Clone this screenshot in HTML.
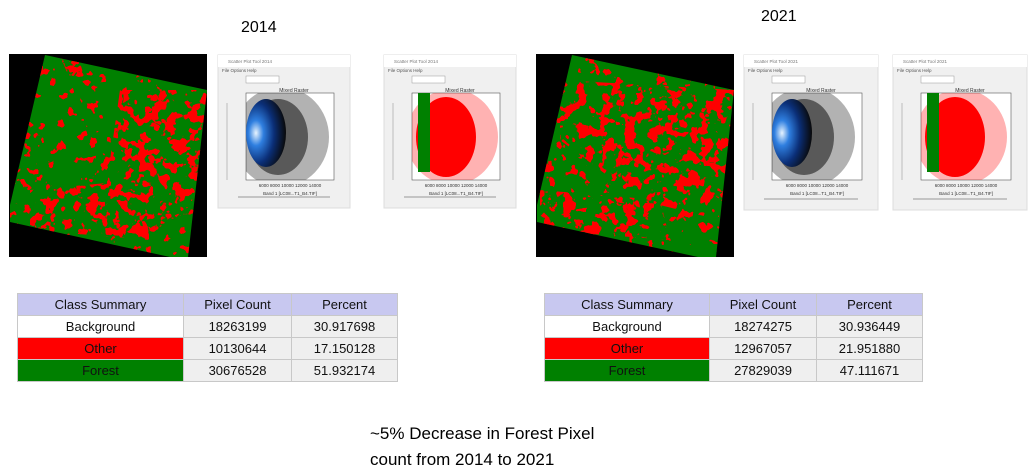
<!DOCTYPE html>
<html><head><meta charset="utf-8"><style>
body{margin:0;width:1032px;height:473px;background:#fff;overflow:hidden;position:relative;font-family:"Liberation Sans",sans-serif}
.t{position:absolute;font-size:16px;color:#000}
table{position:absolute;border-collapse:collapse;font-size:13px;font-family:"Liberation Sans",sans-serif}
td{border:1px solid #c8c8c8;text-align:center;height:21px;padding:0;background:#efefef;color:#111}
tr.h td{background:#c8c8f0}
</style></head><body>
<div class="t" style="left:241px;top:19px">2014</div>
<div class="t" style="left:761px;top:8px">2021</div>
<svg id="s" width="1032" height="280" style="position:absolute;left:0;top:0">
<defs>
<filter id="sp" x="0" y="0" width="100%" height="100%">
<feTurbulence type="fractalNoise" baseFrequency="0.09" numOctaves="3" seed="4"/>
<feColorMatrix type="matrix" values="0 0 0 0 1  0 0 0 0 0  0 0 0 0 0  0 0 0 -40 14.4"/>
</filter>
<filter id="dn" x="0" y="0" width="100%" height="100%">
<feTurbulence type="fractalNoise" baseFrequency="0.08" numOctaves="3" seed="7"/>
<feColorMatrix type="matrix" values="0 0 0 0 1  0 0 0 0 0  0 0 0 0 0  0 0 0 -40 17.5"/>
</filter>
<radialGradient id="bl" cx="0.25" cy="0.5" r="0.75">
<stop offset="0" stop-color="#e8f4ff"/><stop offset="0.25" stop-color="#2f7fe0"/><stop offset="0.6" stop-color="#0b2f78"/><stop offset="1" stop-color="#000" stop-opacity="0.9"/>
</radialGradient>
</defs>
</svg>
<table style="left:17px;top:293px;width:381px">
<tr class="h"><td style="width:165px">Class Summary</td><td style="width:107px">Pixel Count</td><td>Percent</td></tr>
<tr><td style="background:#fff">Background</td><td>18263199</td><td>30.917698</td></tr>
<tr><td style="background:#ff0000">Other</td><td>10130644</td><td>17.150128</td></tr>
<tr><td style="background:#008000">Forest</td><td>30676528</td><td>51.932174</td></tr>
</table>
<table style="left:544px;top:293px;width:379px">
<tr class="h"><td style="width:164px">Class Summary</td><td style="width:106px">Pixel Count</td><td>Percent</td></tr>
<tr><td style="background:#fff">Background</td><td>18274275</td><td>30.936449</td></tr>
<tr><td style="background:#ff0000">Other</td><td>12967057</td><td>21.951880</td></tr>
<tr><td style="background:#008000">Forest</td><td>27829039</td><td>47.111671</td></tr>
</table>
<div class="t" style="left:370px;top:421px;font-size:17px;line-height:26px">~5% Decrease in Forest Pixel<br>count from 2014 to 2021</div>
<script>
const NS='http://www.w3.org/2000/svg';
const svg=document.getElementById('s');
function mk(tag,at,p){const e=document.createElementNS(NS,tag);for(const k in at)e.setAttribute(k,at[k]);(p||svg).appendChild(e);return e;}
function raster(x,y,poly,dense,name){
  const g=mk('g',{});
  
  
  mk('rect',{x:x,y:y,width:198,height:203,fill:'#000'},g);
  const cid='c'+name;
  const cp=mk('clipPath',{id:cid},g);
  mk('polygon',{points:poly},cp);
  mk('polygon',{points:poly,fill:'#008000'},g);
  const gc=mk('g',{'clip-path':'url(#'+cid+')'},g);
  mk('rect',{x:x,y:y,width:198,height:203,filter:'url(#sp)'},gc);
  const cd='d'+name;
  const cp2=mk('clipPath',{id:cd},g);
  for(const p of dense) mk('polygon',{points:p},cp2);
  const gd=mk('g',{'clip-path':'url(#'+cd+')'},gc);
  mk('rect',{x:x,y:y,width:198,height:203,filter:'url(#dn)'},gd);
}
raster(9,54,'45,55 207,90 188,257 170,257 10,222 10,205',
 ['120,90 207,90 200,200 150,230 110,160','30,190 140,180 150,240 30,230','60,55 110,60 100,90 70,80'],'raster-2014');
raster(536,54,'572,55 734,90 716,257 698,257 537,222 537,205',
 ['560,80 734,90 720,220 640,200 560,140','540,190 660,200 670,240 540,230'],'raster-2021');
function win(x,y,w,h,title,mode,id){
  const g=mk('g',{transform:'translate('+x+','+y+')'});
  
  
  mk('rect',{x:0,y:0,width:w,height:h,fill:'#f0f0f0',stroke:'#ddd'},g);
  mk('rect',{x:0,y:0,width:w,height:12,fill:'#fff'},g);
  const t=mk('text',{x:10,y:8,'font-size':4.5,fill:'#777'},g);t.textContent=title;
  const m=mk('text',{x:4,y:17,'font-size':4.5,fill:'#555'},g);m.textContent='File   Options   Help';
  mk('rect',{x:28,y:21,width:33,height:7,fill:'#fff',stroke:'#999','stroke-width':0.5},g);
  const tt=mk('text',{x:w/2+10,y:37,'font-size':5,'text-anchor':'middle',fill:'#333'},g);tt.textContent='Mixed Raster';
  const px=28,py=38,pw=w-44,ph=87;
  mk('rect',{x:px,y:py,width:pw,height:ph,fill:'#fff',stroke:'#555','stroke-width':0.6},g);
  const cp=mk('clipPath',{id:id},g);
  mk('rect',{x:px,y:py,width:pw,height:ph},cp);
  const pg=mk('g',{'clip-path':'url(#'+id+')'},g);
  if(mode==='blue'){
    mk('ellipse',{cx:px+35,cy:py+44,rx:48,ry:50,fill:'#000','fill-opacity':0.3},pg);
    mk('ellipse',{cx:px+32,cy:py+44,rx:30,ry:38,fill:'#000','fill-opacity':0.5},pg);
    mk('ellipse',{cx:px+20,cy:py+40,rx:20,ry:34,fill:'url(#bl)'},pg);
  }else{
    mk('ellipse',{cx:px+40,cy:py+44,rx:46,ry:48,fill:'#ff0000','fill-opacity':0.3},pg);
    mk('ellipse',{cx:px+34,cy:py+44,rx:30,ry:40,fill:'#ff0000'},pg);
    mk('rect',{x:px+6,y:py,width:12,height:ph-8,fill:'#008000'},pg);
  }
  const xl=mk('text',{x:px+pw/2,y:py+ph+15,'font-size':4.5,'text-anchor':'middle',fill:'#333'},g);xl.textContent='Band 1 [LC08...T1_B4.TIF]';
  const xt=mk('text',{x:px+pw/2,y:py+ph+7,'font-size':4.5,'text-anchor':'middle',fill:'#333'},g);xt.textContent='6000  8000  10000  12000  14000';
  mk('line',{x1:20,y1:h-11,x2:w-20,y2:h-11,stroke:'#999'},g);
  mk('line',{x1:9,y1:48,x2:9,y2:125,stroke:'#bbb'},g);
}
win(218,55,132,153,'Scatter Plot Tool 2014','blue','p1');
win(384,55,132,153,'Scatter Plot Tool 2014','red','p2');
win(744,55,134,155,'Scatter Plot Tool 2021','blue','p3');
win(893,55,134,155,'Scatter Plot Tool 2021','red','p4');
</script>
</body></html>
